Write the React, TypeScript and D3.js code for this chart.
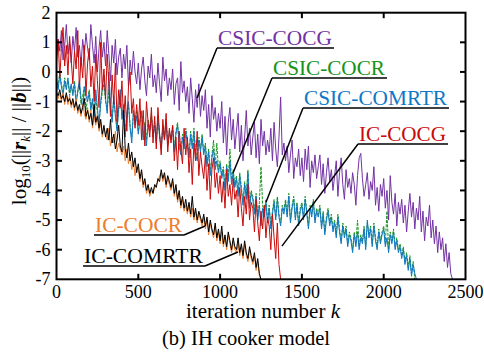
import React, { useRef, useEffect } from "react";
import * as d3 from "d3";

// residual history, one value every ITER_STEP iterations (log10 of relative residual)
const ITER_STEP = 10;

const xTicks = [0, 500, 1000, 1500, 2000, 2500];
const yTicks = [-7, -6, -5, -4, -3, -2, -1, 0, 1, 2];

const csicCocg = [
  0.5, 1.1, 0.7, 1.4, 0.4, 0.9, 1.6, 0.6, 1.0, 0.3,
  1.2, 0.7, 1.5, 0.5, 0.9, 0.2, 1.1, 0.6, 1.3, 0.8,
  0.4, 1.6, 0.9, 0.3, 1.2, 0.0, 0.8, 1.4, 0.5, 1.0,
  0.2, 1.4, 0.6, -0.3, 0.9, 0.3, 1.1, -0.1, 0.5, 0.8,
  -0.2, 0.6, 0.1, 0.9, -0.5, 0.4, -0.1, 0.7, 0.0, -0.4,
  0.3, -0.6, 0.1, 0.5, -0.3, -0.8, 0.2, -0.2, 0.6, -0.5,
  -0.1, -0.7, 0.3, -0.4, -1.0, 0.5, -0.3, 0.1, -0.8, -0.2,
  -0.6, 0.1, -1.1, -0.4, -0.2, -1.3, 0.35, -0.7, -0.3, -1.0,
  -0.5, -1.4, -0.2, -0.9, -1.7, -0.6, -1.2, -0.4, -1.5, -0.8,
  -1.3, -0.6, -1.9, -1.1, -2.2, -0.8, -1.6, -1.2, -2.0, -1.4,
  -1.9, -1.0, -2.4, -1.5, -2.8, -1.7, -1.2, -2.3, -1.6, -2.6,
  -2.0, -1.4, -2.7, -1.8, -3.0, -2.2, -1.3, -2.5, -1.9, -2.8,
  -2.2, -1.7, -2.9, -2.1, -3.1, -1.6, -2.5, -2.0, -2.8, -2.3,
  -2.7, -1.9, -3.0, -1.7, -2.6, -3.2, -2.2, -0.85, -2.8, -2.4,
  -3.0, -2.5, -3.4, -2.8, -2.3, -3.6, -2.9, -3.2, -2.6, -3.5,
  -2.9, -3.7, -2.6, -3.3, -2.5, -3.9, -3.0, -3.4, -2.8, -3.6,
  -3.2, -2.8, -3.8, -3.1, -4.1, -3.4, -2.9, -3.7, -3.3, -4.0,
  -3.5, -3.0, -4.2, -3.4, -2.9, -3.8, -4.3, -3.3, -3.9, -3.6,
  -4.1, -3.4, -3.8, -4.5, -3.5, -2.9, -2.75, -3.6, -4.2, -3.8,
  -3.4, -4.3, -3.7, -4.0, -3.2, -4.5, -3.9, -4.7, -3.8, -4.2,
  -3.6, -4.6, -4.0, -5.0, -3.5, -4.4, -4.8, -4.1, -5.2, -4.4,
  -4.8, -4.3, -5.1, -4.5, -5.4, -4.7, -4.1, -4.9, -4.4, -5.3,
  -4.6, -5.0, -4.2, -5.4, -4.7, -5.7, -4.9, -5.2, -4.5, -5.6,
  -5.0, -5.8, -5.2, -6.1, -5.4, -6.0, -5.6, -6.4, -5.8, -6.6,
  -6.1, -6.8, -7.0,
];

const csicCocr = [
  -0.2, -0.5, 0.0, -0.4, -0.7, -0.2, -0.5, -0.3, -0.8, -0.5,
  -0.7, -0.3, -1.0, -0.7, -0.4, -1.1, -0.8, -0.5, -1.3, -0.9,
  -0.6, -1.2, -1.0, -1.5, -0.8, -1.4, -1.7, -1.1, -0.7, -0.4,
  -1.0, -1.3, -0.6, -1.2, -1.6, -0.9, -1.4, -1.9, -1.3, -0.8,
  -1.5, -1.2, -2.0, -1.5, -1.1, -1.8, -2.2, -1.4, -1.7, -1.3,
  -2.0, -1.7, -1.3, -2.2, -1.7, -2.3, -1.6, -1.9, -1.4, -2.1,
  -1.7, -2.3, -1.5, -2.2, -2.5, -1.8, -2.2, -1.6, -2.4, -2.1,
  -2.2, -1.8, -2.6, -2.0, -1.7, -2.4, -2.7, -2.1, -2.5, -1.9,
  -2.3, -2.8, -2.0, -2.5, -1.9, -2.7, -2.9, -2.2, -2.6, -2.1,
  -2.7, -2.4, -3.1, -2.6, -3.4, -2.8, -2.3, -3.2, -2.4, -3.3,
  -3.0, -3.5, -3.2, -3.9, -3.1, -3.6, -2.6, -3.7, -3.3, -3.8,
  -3.5, -4.1, -3.4, -3.9, -4.4, -3.7, -4.2, -3.3, -4.5, -4.0,
  -4.2, -4.7, -4.1, -4.9, -4.4, -3.2, -4.5, -4.8, -4.3, -5.0,
  -4.5, -5.2, -4.7, -4.3, -4.9, -4.2, -4.8, -5.1, -4.5, -4.7,
  -4.3, -4.8, -4.1, -5.0, -4.5, -4.2, -4.9, -4.4, -5.1, -4.6,
  -4.4, -4.9, -4.2, -4.7, -5.2, -4.5, -4.8, -4.3, -5.0, -4.6,
  -4.8, -4.5, -5.2, -4.7, -5.4, -4.9, -4.6, -5.1, -4.8, -5.3,
  -5.0, -5.5, -4.8, -5.3, -5.7, -5.1, -5.5, -5.2, -5.8, -5.4,
  -5.6, -6.0, -5.4, -5.8, -5.0, -5.9, -5.5, -5.7, -5.2, -5.9,
  -5.1, -5.5, -5.2, -5.8, -5.1, -5.6, -5.9, -5.3, -5.7, -5.4,
  -5.2, -5.8, -4.7, -6.0, -5.4, -5.7, -5.3, -5.9, -5.6, -6.0,
  -5.8, -6.2, -5.9, -6.4, -6.1, -6.6, -6.2, -6.8, -6.4, -7.0,
];

const csicComrtr = [
  -0.3, -0.6, -0.1, -0.5, -0.8, -0.3, -0.6, -0.2, -0.7, -0.4,
  -0.8, -0.4, -1.1, -0.6, -0.3, -0.9, -1.2, -0.5, -0.8, -1.0,
  -0.7, -1.3, -0.9, -1.6, -0.6, -1.2, -1.8, -1.0, -0.5, -0.1,
  -0.9, -1.4, 0.0, -1.1, -1.7, -0.8, -1.5, -2.0, -1.2, -0.6,
  -1.6, -1.1, -2.2, -1.4, -1.0, -1.9, -2.4, -1.3, -1.8, -1.5,
  -2.1, -1.6, -1.4, -2.3, -1.8, -2.5, -1.7, -2.0, -1.5, -2.2,
  -1.8, -2.4, -1.6, -2.1, -2.6, -1.9, -2.3, -1.7, -2.5, -2.0,
  -2.3, -1.9, -2.7, -2.1, -1.8, -2.5, -2.8, -2.2, -2.6, -2.0,
  -2.4, -2.9, -2.1, -2.6, -2.0, -2.8, -3.0, -2.3, -2.7, -2.2,
  -2.8, -2.5, -3.2, -2.7, -3.5, -2.9, -2.6, -3.3, -3.0, -3.4,
  -3.1, -3.6, -3.3, -4.0, -3.2, -3.7, -3.0, -3.8, -3.4, -3.9,
  -3.6, -4.2, -3.5, -4.0, -4.5, -3.8, -4.3, -3.4, -4.6, -4.1,
  -4.3, -4.8, -4.2, -5.0, -4.5, -5.2, -4.6, -4.9, -4.4, -5.1,
  -4.6, -5.3, -4.8, -4.4, -5.0, -4.3, -4.9, -5.2, -4.6, -4.8,
  -4.4, -4.9, -4.2, -5.1, -4.6, -4.3, -5.0, -4.5, -5.2, -4.7,
  -4.5, -5.0, -4.3, -4.8, -5.3, -4.6, -4.9, -4.4, -5.1, -4.7,
  -4.9, -4.6, -5.3, -4.8, -5.5, -5.0, -4.7, -5.2, -4.9, -5.4,
  -5.1, -5.6, -4.9, -5.4, -5.8, -5.2, -5.6, -5.3, -5.9, -5.5,
  -5.7, -6.1, -5.5, -5.9, -5.4, -6.0, -5.6, -5.8, -5.3, -6.0,
  -5.0, -5.6, -5.3, -5.9, -5.2, -5.7, -6.0, -5.4, -5.8, -5.5,
  -5.3, -5.9, -5.6, -6.1, -5.5, -5.8, -5.4, -6.0, -5.7, -6.1,
  -5.9, -6.3, -6.0, -6.5, -6.2, -6.7, -6.3, -6.9, -6.5, -6.8,
  -7.0,
];

const icCocg = [
  0.3, 1.1, -0.2, 0.8, 1.5, 0.2, 0.9, -0.1, 1.2, 0.4,
  -0.4, 0.7, 0.1, 1.4, -0.6, 0.5, -0.2, 0.9, -0.8, 0.3,
  0.8, -0.5, 0.2, -1.0, 0.6, -0.3, -1.2, 1.0, -0.6, 0.1,
  -0.9, 0.6, -0.4, -1.5, -0.1, -1.1, 0.3, -1.7, -0.6, -1.2,
  -0.3, -1.6, -0.8, -2.0, -0.5, 0.0, -1.4, -0.9, -1.9, -1.1,
  -1.8, -0.9, -2.3, -1.3, -2.5, -1.0, -1.7, -2.2, -1.2, -2.4,
  -1.5, -2.6, -1.2, -2.1, -2.8, -1.6, -2.3, -1.4, -2.7, -1.9,
  -2.4, -1.8, -3.0, -2.2, -3.3, -2.0, -2.6, -3.1, -1.9, -2.8,
  -2.2, -3.4, -2.6, -3.8, -2.4, -3.0, -2.0, -3.5, -2.7, -3.2,
  -3.6, -2.8, -4.0, -3.1, -4.3, -3.3, -2.9, -3.9, -3.4, -4.1,
  -3.5, -4.4, -3.7, -4.6, -3.3, -4.2, -3.8, -4.5, -3.6, -4.3,
  -4.0, -4.9, -3.9, -4.6, -5.2, -4.2, -4.8, -3.8, -5.0, -4.4,
  -4.6, -5.4, -4.3, -5.1, -5.7, -4.7, -5.3, -4.5, -5.6, -4.9,
  -5.2, -6.0, -4.8, -5.6, -6.3, -5.1, -6.5, -7.0,
];

const icCocr = [
  -0.6, -0.9, -0.7, -1.0, -0.7, -1.1, -0.8, -1.1, -0.8, -1.2,
  -1.0, -1.3, -0.9, -1.4, -1.2, -1.5, -1.1, -1.4, -1.6, -1.2,
  -1.7, -1.3, -1.9, -1.5, -1.8, -1.4, -2.0, -1.7, -2.2, -1.9,
  -2.1, -2.3, -1.9, -2.5, -2.2, -2.4, -2.0, -2.7, -2.4, -2.6,
  -2.8, -2.5, -3.0, -2.6, -3.1, -2.8, -3.3, -3.0, -3.5, -3.2,
  -3.3, -3.7, -3.4, -3.9, -3.7, -4.1, -3.9, -4.2, -4.0, -4.1,
  -3.9, -3.8, -3.7, -3.5, -3.4, -3.7, -3.5, -3.9, -3.6, -3.8,
  -4.0, -3.7, -4.2, -3.9, -4.4, -4.1, -4.6, -4.3, -4.7, -4.5,
  -4.8, -4.5, -4.9, -4.6, -5.0, -4.7, -5.1, -4.8, -5.0, -5.2,
  -4.9, -5.3, -5.0, -5.5, -5.1, -5.4, -5.6, -5.2, -5.7, -5.4,
  -5.8, -5.4, -5.9, -5.6, -6.0, -5.5, -5.8, -6.1, -5.7, -6.0,
  -6.1, -5.8, -6.2, -5.9, -6.3, -5.8, -6.2, -6.4, -6.0, -6.3,
  -6.5, -6.2, -6.7, -6.4, -6.9, -7.0,
];

const icComrtr = [
  -0.7, -0.8, -0.6, -0.9, -0.8, -1.0, -0.7, -1.0, -0.9, -1.1,
  -0.9, -1.2, -1.0, -1.3, -1.1, -1.4, -1.2, -0.9, -1.5, -1.3,
  -1.6, -1.4, -1.8, -1.1, -1.7, -1.5, -1.9, -1.6, -2.1, -1.8,
  -2.2, -1.9, -2.3, -1.6, -2.4, -2.1, -2.6, -2.3, -1.8, -2.5,
  -2.7, -1.3, -2.6, -2.9, -2.4, -3.0, -2.7, -3.2, -2.9, -3.4,
  -3.1, -3.6, -3.3, -3.8, -3.6, -4.0, -3.8, -4.1, -3.9, -4.1,
  -3.8, -3.9, -3.6, -3.7, -3.3, -3.6, -3.4, -3.8, -3.5, -3.7,
  -3.9, -3.6, -4.1, -3.8, -4.3, -4.0, -4.5, -4.2, -4.6, -4.3,
  -4.7, -4.4, -4.8, -4.2, -4.9, -4.6, -5.0, -4.7, -4.9, -5.1,
  -4.8, -5.2, -4.9, -5.4, -5.0, -5.3, -5.5, -5.1, -5.6, -5.3,
  -5.7, -5.2, -5.8, -5.5, -5.9, -5.4, -5.7, -6.0, -5.6, -5.9,
  -6.0, -5.6, -6.1, -5.8, -6.2, -5.7, -6.1, -6.3, -5.9, -6.2,
  -6.4, -6.1, -6.6, -6.3, -6.8, -7.0,
];

const PURPLE = "#7232A4";
const GREEN = "#15931A";
const BLUE = "#0F78C6";
const RED = "#C80A0A";
const ORANGE = "#EE7D2E";

// drawing order: first ones end up underneath
const series = [
  { name: "CSIC-COCG", values: csicCocg, color: PURPLE, dash: null },
  { name: "CSIC-COCR", values: csicCocr, color: GREEN, dash: "3,1.2" },
  { name: "CSIC-COMRTR", values: csicComrtr, color: BLUE, dash: null },
  { name: "IC-COCG", values: icCocg, color: RED, dash: null },
  { name: "IC-COCR", values: icCocr, color: ORANGE, dash: null },
  { name: "IC-COMRTR", values: icComrtr, color: "#000000", dash: null },
];

// label box (pixels) and the point of the curve the leader line points at (data units)
const labels = [
  { text: "CSIC-COCG", color: PURPLE, x: 218, y: 45, w: 116, tipK: 859, tipV: -0.88, side: "left" },
  { text: "CSIC-COCR", color: GREEN, x: 273, y: 75, w: 114, tipK: 1079, tipV: -3.41, side: "left" },
  { text: "CSIC-COMRTR", color: BLUE, x: 304, y: 105, w: 145, tipK: 1281, tipV: -4.39, side: "left" },
  { text: "IC-COCG", color: RED, x: 359, y: 141, w: 89, tipK: 1378, tipV: -5.88, side: "left" },
  { text: "IC-COCR", color: ORANGE, x: 95, y: 232, w: 89, tipK: 908, tipV: -5.2, side: "right" },
  { text: "IC-COMRTR", color: "#000000", x: 84, y: 263, w: 121, tipK: 1109, tipV: -6.08, side: "right" },
];

const FONT = "Liberation Serif, Times New Roman, serif";

const ResidualChart = () => {
  const ref = useRef<SVGSVGElement | null>(null);

  useEffect(() => {
    const width = 484;
    const height = 352;
    const plot = { left: 56.5, right: 465.5, top: 12.7, bottom: 279.3 };

    const x = d3.scaleLinear().domain([0, 2500]).range([plot.left, plot.right]);
    const y = d3.scaleLinear().domain([-7, 2]).range([plot.bottom, plot.top]);

    const svg = d3.select(ref.current);
    svg.selectAll("*").remove();
    svg.attr("width", width).attr("height", height).attr("font-family", FONT);

    svg.append("rect").attr("width", width).attr("height", height).attr("fill", "#fff");

    svg.append("defs").append("clipPath").attr("id", "plotclip")
      .append("rect")
      .attr("x", plot.left).attr("y", plot.top)
      .attr("width", plot.right - plot.left).attr("height", plot.bottom - plot.top);

    const line = d3.line<number>()
      .x((d, i) => x(i * ITER_STEP))
      .y(d => y(d));

    const lines = svg.append("g").attr("clip-path", "url(#plotclip)");
    series.forEach(s => {
      lines.append("path")
        .attr("d", line(s.values))
        .attr("fill", "none")
        .attr("stroke", s.color)
        .attr("stroke-width", 1)
        .attr("stroke-linejoin", "round")
        .attr("stroke-dasharray", s.dash);
    });

    // frame + inward ticks on all four sides
    const axes = svg.append("g").attr("stroke", "#000").attr("stroke-width", 2);
    axes.append("rect")
      .attr("x", plot.left).attr("y", plot.top)
      .attr("width", plot.right - plot.left).attr("height", plot.bottom - plot.top)
      .attr("fill", "none");
    const tl = 5.5;
    xTicks.slice(1, -1).forEach(t => {
      axes.append("line").attr("x1", x(t)).attr("x2", x(t)).attr("y1", plot.bottom).attr("y2", plot.bottom - tl);
      axes.append("line").attr("x1", x(t)).attr("x2", x(t)).attr("y1", plot.top).attr("y2", plot.top + tl);
    });
    yTicks.slice(1, -1).forEach(t => {
      axes.append("line").attr("x1", plot.left).attr("x2", plot.left + tl).attr("y1", y(t)).attr("y2", y(t));
      axes.append("line").attr("x1", plot.right).attr("x2", plot.right - tl).attr("y1", y(t)).attr("y2", y(t));
    });

    svg.append("g").selectAll("text").data(xTicks).join("text")
      .attr("x", d => x(d)).attr("y", 297.5)
      .attr("text-anchor", "middle").attr("font-size", 18)
      .text(d => String(d));

    svg.append("g").selectAll("text").data(yTicks).join("text")
      .attr("x", 50.5).attr("y", d => y(d) + 6)
      .attr("text-anchor", "end").attr("font-size", 18)
      .text(d => String(d));

    // axis titles
    const xt = svg.append("text").attr("x", 263).attr("y", 318)
      .attr("text-anchor", "middle").attr("font-size", 21);
    xt.append("tspan").text("iteration number ");
    xt.append("tspan").attr("font-style", "italic").text("k");

    const yt = svg.append("text")
      .attr("transform", "translate(25.5,141) rotate(-90)")
      .attr("text-anchor", "middle").attr("font-size", 21);
    yt.append("tspan").text("log");
    yt.append("tspan").attr("font-size", 13).attr("dy", 4).text("10");
    yt.append("tspan").attr("dy", -4).text("(||");
    yt.append("tspan").attr("font-weight", "bold").attr("font-style", "italic").text("r");
    yt.append("tspan").attr("font-size", 13).attr("font-style", "italic").attr("dy", 4).text("k");
    yt.append("tspan").attr("dy", -4).text("|| / ||");
    yt.append("tspan").attr("font-weight", "bold").attr("font-style", "italic").text("b");
    yt.append("tspan").text("||)");

    svg.append("text").attr("x", 246).attr("y", 345)
      .attr("text-anchor", "middle").attr("font-size", 20.5)
      .text("(b) IH cooker model");

    // labels with underline and leader line
    labels.forEach(l => {
      svg.append("text").attr("x", l.x).attr("y", l.y)
        .attr("font-size", 21.5).attr("fill", l.color)
        .attr("textLength", l.w - 2).attr("lengthAdjust", "spacingAndGlyphs")
        .text(l.text);
      const uy = l.y + 3;
      const x0 = l.x - 1;
      const x1 = l.x + l.w;
      svg.append("line").attr("x1", x0).attr("x2", x1).attr("y1", uy).attr("y2", uy)
        .attr("stroke", "#000").attr("stroke-width", 1.5);
      const sx = l.side === "left" ? x0 : x1;
      svg.append("line").attr("x1", sx).attr("y1", uy)
        .attr("x2", x(l.tipK)).attr("y2", y(l.tipV))
        .attr("stroke", "#000").attr("stroke-width", 1.5);
    });
  }, []);

  return <svg ref={ref} style={{ position: "absolute", left: 0, top: 0 }} />;
};

export default function App() {
  return <ResidualChart />;
}
